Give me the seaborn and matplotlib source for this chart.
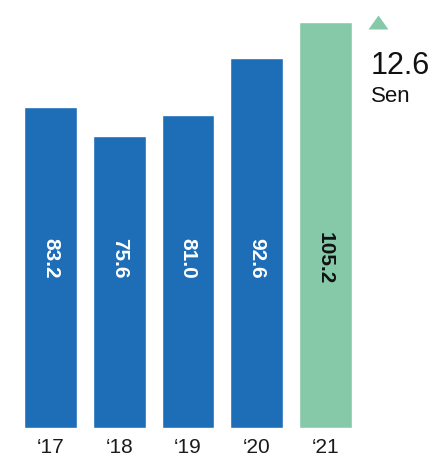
import matplotlib
matplotlib.use("Agg")
import matplotlib.pyplot as plt
import seaborn as sns
import pandas as pd

years = ["\u201817", "\u201818", "\u201819", "\u201820", "\u201821"]
# bar heights as drawn in the reference (the '20 bar is drawn taller than its label)
heights = [83.2, 75.6, 81.0, 96.0, 105.2]
value_labels = ["83.2", "75.6", "81.0", "92.6", "105.2"]
bar_colors = ["#1d6db7", "#1d6db7", "#1d6db7", "#1d6db7", "#85c9a8"]
label_colors = ["white", "white", "white", "white", "#111111"]
change_value = "12.6"
change_unit = "Sen"

sns.set_theme(style="white")
plt.rcParams["font.family"] = ["Liberation Sans", "DejaVu Sans"]

df = pd.DataFrame({"year": years, "value": heights})

fig = plt.figure(figsize=(4.35, 4.57), dpi=100)
ax = fig.add_axes([0, 29 / 457, 1, 428 / 457])
sns.barplot(data=df, x="year", y="value", hue="year", palette=bar_colors,
            width=0.77, legend=False, ax=ax, saturation=1)

ax.set_xlim(-0.735, 5.593)
ax.set_ylim(0, 110.9)
for s in ax.spines.values():
    s.set_visible(False)
ax.set_yticks([])
ax.set_xlabel("")
ax.set_ylabel("")
ax.tick_params(axis="x", length=0, pad=7.5, labelsize=15, labelcolor="#1a1a1a")

for i, (lab, c) in enumerate(zip(value_labels, label_colors)):
    ax.text(i, 44, lab, rotation=-90, ha="center", va="center",
            color=c, fontsize=15, fontweight="bold")

# change indicator
tri = [(-1, -0.7), (1, -0.7), (0, 0.7)]
ax.scatter([4.76], [105.3], marker=tri, s=207, color="#85c9a8", clip_on=False,
           linewidths=0)
ax.text(4.655, 91.7, change_value, ha="left", va="baseline", fontsize=22,
        color="#111111")
ax.text(4.655, 84.6, change_unit, ha="left", va="baseline", fontsize=16,
        color="#111111")

fig.savefig("out.png", dpi=100)
